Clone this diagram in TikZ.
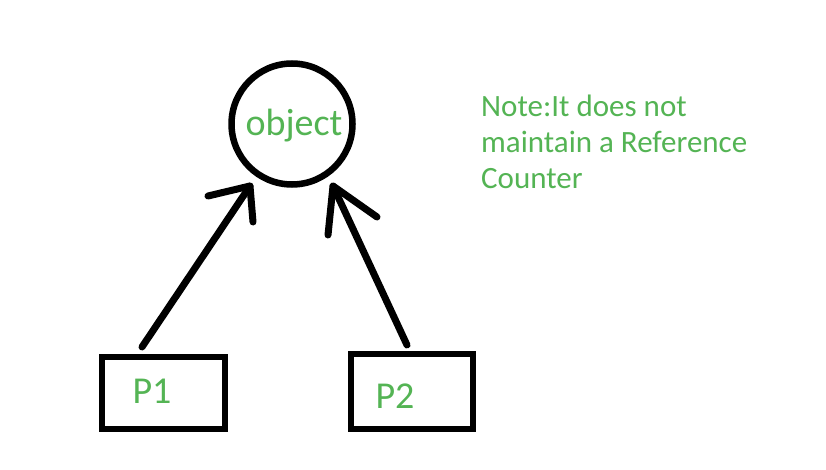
\documentclass[tikz,border=0pt]{standalone}
\usepackage{fontspec}
\setmainfont{Carlito}
\definecolor{notegreen}{RGB}{84,180,84}
\begin{document}
\begin{tikzpicture}[x=1pt,y=-1pt,
  arrowline/.style={line width=7pt,line cap=round,line join=round},
  box/.style={draw,line width=6.5pt,rectangle,inner sep=0pt},
  lbl/.style={text=notegreen,inner sep=0pt,font=\fontsize{38}{46}\selectfont},
  notetext/.style={text=notegreen,inner sep=0pt,anchor=base west,font=\fontsize{31}{37}\selectfont}]
\useasboundingbox[fill=white] (0,0) rectangle (826,470);
% object circle
\node[draw,circle,line width=6.5pt,minimum size=121pt,inner sep=0pt] (obj) at (292,124) {};
\node[lbl,anchor=base] (objlabel) at (294,136) {object};
% boxes
\node[box,minimum width=123pt,minimum height=72pt] (p1) at (163.5,393) {};
\node[box,minimum width=122pt,minimum height=75pt] (p2) at (412,391.5) {};
\node[lbl] (p1label) at (152,391) {P1};
\node[lbl] (p2label) at (395,396) {P2};
% arrow tips and arms
\coordinate (t1) at (250,186);
\coordinate (a1) at (208,196);
\coordinate (b1) at (253,222);
\coordinate (t2) at (333,186);
\coordinate (a2) at (328,235);
\coordinate (b2) at (377,217);
\coordinate (s1) at (142,347);
\coordinate (s2) at (407,345);
\draw[arrowline] (s1) -- (t1);
\draw[arrowline] (a1) -- (t1) -- (b1);
\draw[arrowline] (s2) -- (t2);
\draw[arrowline] (a2) -- (t2) -- (b2);
% note
\node[notetext] (note1) at (481,117) {Note:It does not};
\node[notetext] (note2) at (481,153) {maintain a Reference};
\node[notetext] (note3) at (481,189) {Counter};
\end{tikzpicture}
\end{document}
